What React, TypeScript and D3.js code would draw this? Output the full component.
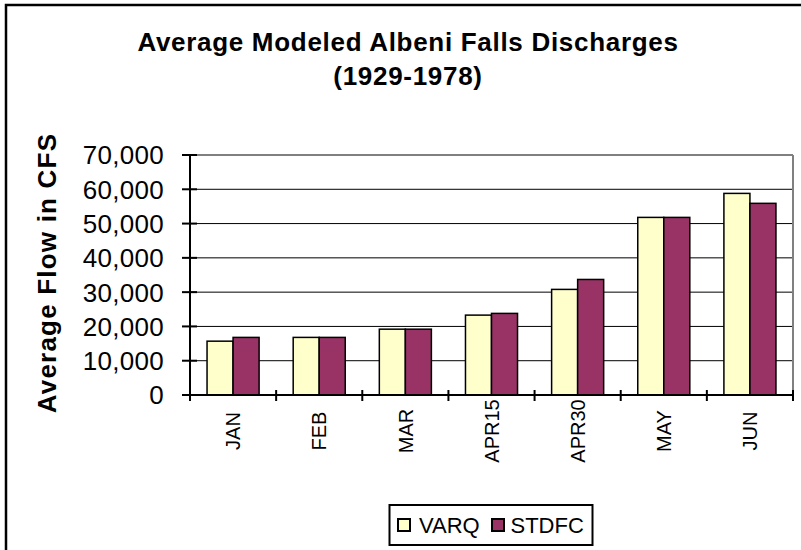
import React from "react";
import * as d3 from "d3";

const categories = ["JAN", "FEB", "MAR", "APR15", "APR30", "MAY", "JUN"];
const seriesNames = ["VARQ", "STDFC"];
const varqValues = [15700, 16800, 19200, 23300, 30800, 51800, 58800];
const stdfcValues = [16800, 16800, 19200, 23800, 33700, 51800, 55900];
const seriesColors = ["#FFFFCC", "#993366"];
const yTicks = [0, 10000, 20000, 30000, 40000, 50000, 60000, 70000];
const titleLines = ["Average Modeled Albeni Falls Discharges", "(1929-1978)"];
const yAxisTitle = "Average Flow in CFS";

const W = 801;
const H = 550;
const plot = { left: 190, right: 793, top: 155, bottom: 395 };
const FONT = "Arial, 'Liberation Sans', Helvetica, sans-serif";

export default function App() {
  const x = d3.scaleBand<string>().domain(categories).range([plot.left, plot.right]).paddingInner(0).paddingOuter(0);
  const inner = d3.scaleBand<string>().domain(seriesNames).range([0, x.bandwidth()]).paddingInner(0).paddingOuter(0.655);
  const y = d3.scaleLinear().domain([0, 70000]).range([plot.bottom, plot.top]);
  const fmt = d3.format(",");
  const values = [varqValues, stdfcValues];

  return (
    <svg width={W} height={H} style={{ position: "absolute", left: 0, top: 0, background: "#fff" }} fontFamily={FONT}>
      <rect x={0} y={0} width={W} height={H} fill="#fff" />
      {/* outer chart frame */}
      <rect x={6} y={5} width={W + 50} height={H + 50} fill="none" stroke="#000" strokeWidth={2.5} />

      {/* title */}
      {titleLines.map((t, i) => (
        <text key={i} x={408} y={51 + i * 34} textAnchor="middle" fontSize={26} fontWeight="bold" letterSpacing={0.7} fill="#000">
          {t}
        </text>
      ))}

      {/* gridlines */}
      {yTicks.filter((t) => t > 0 && t < 70000).map((t) => (
        <line key={t} x1={plot.left} x2={plot.right} y1={y(t)} y2={y(t)} stroke="#000" strokeWidth={1} />
      ))}
      {/* plot area top/right border */}
      <line x1={plot.left} x2={plot.right} y1={y(70000)} y2={y(70000)} stroke="#808080" strokeWidth={2} />
      <line x1={plot.right} x2={plot.right} y1={plot.top} y2={plot.bottom} stroke="#808080" strokeWidth={2} />

      {/* bars */}
      {categories.map((c, ci) =>
        seriesNames.map((s, si) => {
          const v = values[si][ci];
          const bx = (x(c) as number) + (inner(s) as number);
          return (
            <rect
              key={c + s}
              x={bx}
              y={y(v)}
              width={inner.bandwidth()}
              height={y(0) - y(v)}
              fill={seriesColors[si]}
              stroke="#000"
              strokeWidth={1.5}
            />
          );
        })
      )}

      {/* y axis */}
      <line x1={plot.left} x2={plot.left} y1={plot.top} y2={plot.bottom + 6} stroke="#000" strokeWidth={2} />
      {yTicks.map((t) => (
        <g key={t}>
          <line x1={plot.left - 8} x2={plot.left + 7} y1={y(t)} y2={y(t)} stroke="#000" strokeWidth={2} />
          <text x={164} y={y(t)} dy="0.36em" textAnchor="end" fontSize={26} letterSpacing={0.3} fill="#000">
            {fmt(t)}
          </text>
        </g>
      ))}

      {/* x axis */}
      <line x1={plot.left - 8} x2={plot.right} y1={plot.bottom} y2={plot.bottom} stroke="#000" strokeWidth={2} />
      {categories.map((c) => (
        <line key={c} x1={x(c) as number} x2={x(c) as number} y1={plot.bottom - 5} y2={plot.bottom + 6} stroke="#000" strokeWidth={2} />
      ))}
      <line x1={plot.right} x2={plot.right} y1={plot.bottom - 5} y2={plot.bottom + 6} stroke="#000" strokeWidth={2} />
      {categories.map((c) => {
        const cx = (x(c) as number) + x.bandwidth() / 2;
        return (
          <text key={c} transform={`translate(${cx},431) rotate(-90)`} textAnchor="middle" dy="0.36em" fontSize={20} fill="#000">
            {c}
          </text>
        );
      })}

      {/* y axis title */}
      <text transform="translate(56,273) rotate(-90)" textAnchor="middle" fontSize={26} fontWeight="bold" letterSpacing={1.2} fill="#000">
        {yAxisTitle}
      </text>

      {/* legend */}
      <rect x={389.5} y={505} width={203} height={40} fill="#fff" stroke="#000" strokeWidth={2} />
      <rect x={398} y={519} width={12} height={12} fill={seriesColors[0]} stroke="#000" strokeWidth={2} />
      <text x={419} y={525} dy="0.36em" fontSize={22} fill="#000">{seriesNames[0]}</text>
      <rect x={492} y={519} width={12} height={12} fill={seriesColors[1]} stroke="#000" strokeWidth={2} />
      <text x={510.5} y={525} dy="0.36em" fontSize={22} fill="#000">{seriesNames[1]}</text>
    </svg>
  );
}
